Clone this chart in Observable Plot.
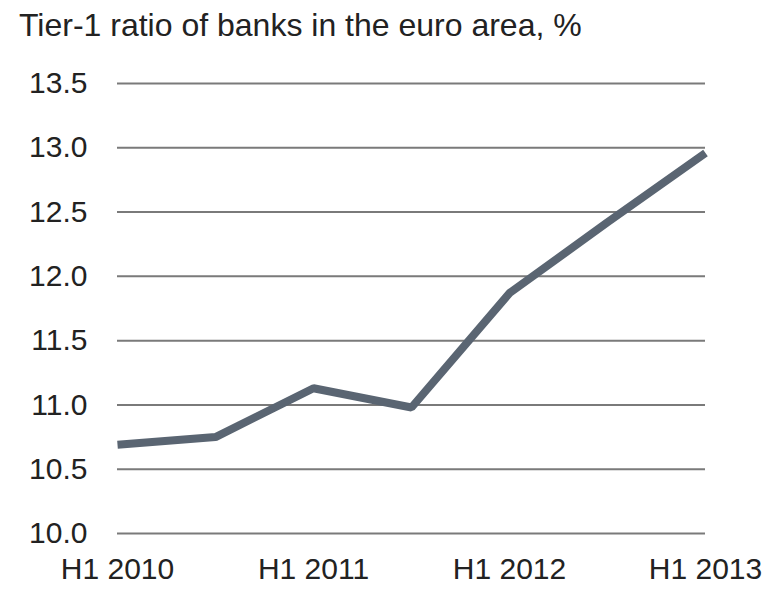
<!DOCTYPE html>
<html>
<head>
<meta charset="utf-8">
<script src="https://cdn.jsdelivr.net/npm/d3@7"></script>
<script src="https://cdn.jsdelivr.net/npm/@observablehq/plot@0.6"></script>
<style>
  html, body { margin: 0; padding: 0; background: #fff; }
  #title { font-family: "Liberation Sans", Arial, sans-serif; font-size: 32px; line-height: 32px; padding: 9px 0 0 19px; height: 32px; color: #222; }
</style>
</head>
<body>
<div id="title">Tier-1 ratio of banks in the euro area, %</div>
<div id="chart"></div>
<script>
const periods = ["H1 2010", "H2 2010", "H1 2011", "H2 2011", "H1 2012", "H2 2012", "H1 2013"];
const tier1 = [10.69, 10.75, 11.13, 10.98, 11.87, 12.42, 12.96];
const xTicks = ["H1 2010", "H1 2011", "H1 2012", "H1 2013"];
const yTicks = [10.0, 10.5, 11.0, 11.5, 12.0, 12.5, 13.0, 13.5];

const data = periods.map((p, i) => ({period: p, value: tier1[i]}));

const chart = Plot.plot({
  width: 771,
  height: 548,
  marginTop: 42,
  marginBottom: 56,
  marginLeft: 117,
  marginRight: 66,
  style: { fontFamily: "Liberation Sans, Arial, sans-serif", fontSize: "30px", color: "#222", background: "#fff" },
  x: { type: "point", domain: periods, padding: 0 },
  y: { domain: [10, 13.5] },
  marks: [
    Plot.ruleY(yTicks, { stroke: "#7a7a7a", strokeWidth: 2, strokeOpacity: 1 }),
    Plot.axisY({ ticks: yTicks, tickSize: 0, tickPadding: 30, tickFormat: d => d.toFixed(1), label: null }),
    Plot.axisX({ ticks: xTicks, tickSize: 0, tickPadding: 24, label: null }),
    Plot.line(data, { x: "period", y: "value", stroke: "#5a6572", strokeWidth: 8, strokeLinejoin: "miter", strokeLinecap: "butt" })
  ]
});
document.getElementById("chart").appendChild(chart);
</script>
</body>
</html>
